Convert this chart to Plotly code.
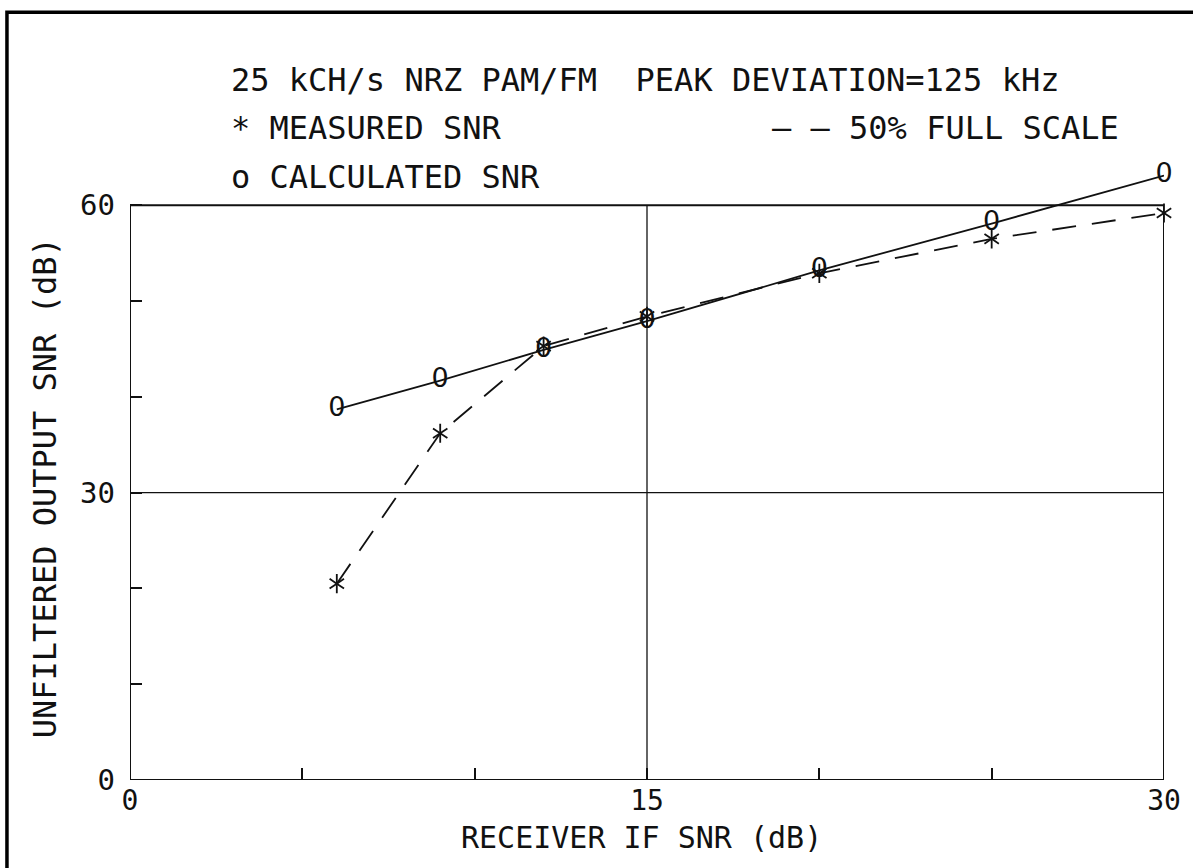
import plotly.graph_objects as go

# ---- data ----
if_snr = [6, 9, 12, 15, 20, 25, 30]
calculated_snr = [38.7, 41.7, 44.9, 47.9, 53.2, 58.1, 63.1]
measured_snr = [20.5, 36.2, 45.3, 48.4, 52.9, 56.5, 59.2]

x_tick_vals = [0, 5, 10, 15, 20, 25, 30]
x_tick_text = ["0", "", "", "15", "", "", "30"]
y_tick_vals = [0, 10, 20, 30, 40, 50, 60]
y_tick_text = ["0", "", "", "30", "", "", "60"]

title_line = "25 kCH/s NRZ PAM/FM  PEAK DEVIATION=125 kHz"
legend_measured = "* MEASURED SNR"
legend_dash = "— — 50% FULL SCALE"
legend_calc = "o CALCULATED SNR"
x_title = "RECEIVER IF SNR (dB)"
y_title = "UNFILTERED OUTPUT SNR (dB)"

INK = "#111111"
MONO = "DejaVu Sans Mono, Liberation Mono, monospace"

fig = go.Figure()

# measured: dashed line
fig.add_trace(go.Scatter(
    x=if_snr, y=measured_snr, mode="lines",
    line=dict(color=INK, width=1.8, dash="24px,16px"),
    showlegend=False, hoverinfo="skip"))
# calculated: solid line
fig.add_trace(go.Scatter(
    x=if_snr, y=calculated_snr, mode="lines",
    line=dict(color=INK, width=1.8),
    showlegend=False, hoverinfo="skip"))
# calculated markers as plotter "0" glyphs
fig.add_trace(go.Scatter(
    x=if_snr, y=calculated_snr, mode="text",
    text=["0"] * len(if_snr), textposition="middle center",
    textfont=dict(family="DejaVu Sans, sans-serif", size=27, color=INK),
    cliponaxis=False, showlegend=False, hoverinfo="skip"))
# measured markers: six-arm stars (y-up + y-down)
for sym in ["y-up-open", "y-down-open"]:
    fig.add_trace(go.Scatter(
        x=if_snr, y=measured_snr, mode="markers",
        marker=dict(symbol=sym, size=12, line=dict(color=INK, width=1.8), color=INK),
        cliponaxis=False, showlegend=False, hoverinfo="skip"))

shapes = [
    # plot frame
    dict(type="rect", xref="x", yref="y", x0=0, x1=30, y0=0, y1=60,
         line=dict(color=INK, width=2)),
    # grid lines
    dict(type="line", xref="x", yref="y", x0=15, x1=15, y0=0, y1=60,
         line=dict(color=INK, width=1.3)),
    dict(type="line", xref="x", yref="y", x0=0, x1=30, y0=30, y1=30,
         line=dict(color=INK, width=1.3)),
    # outer page border (left/top visible)
    dict(type="rect", xref="paper", yref="paper", x0=-0.1190, x1=1.3,
         y0=-0.4, y1=1.2524, line=dict(color="#000000", width=3.5)),
]

annotations = [
    dict(text=title_line, xref="paper", yref="paper", x=0.0955, y=1.142,
         xanchor="left", yanchor="middle", showarrow=False,
         font=dict(family=MONO, size=32, color=INK)),
    dict(text=legend_measured, xref="paper", yref="paper", x=0.0955, y=1.0636,
         xanchor="left", yanchor="middle", showarrow=False,
         font=dict(family=MONO, size=32, color=INK)),
    dict(text=legend_dash, xref="paper", yref="paper", x=0.958, y=1.0636,
         xanchor="right", yanchor="middle", showarrow=False,
         font=dict(family=MONO, size=32, color=INK)),
    dict(text=legend_calc, xref="paper", yref="paper", x=0.0955, y=0.984,
         xanchor="left", yanchor="middle", showarrow=False,
         font=dict(family=MONO, size=32, color=INK)),
    dict(text=x_title, xref="paper", yref="paper", x=0.495, y=-0.094,
         xanchor="center", yanchor="middle", showarrow=False,
         font=dict(family=MONO, size=30, color=INK)),
    dict(text=y_title, xref="paper", yref="paper", x=-0.0822, y=0.476,
         xanchor="center", yanchor="middle", showarrow=False, textangle=-90,
         font=dict(family=MONO, size=32, color=INK)),
]

fig.update_layout(
    width=1193, height=868,
    margin=dict(l=130, r=29, t=167, b=88),
    paper_bgcolor="white", plot_bgcolor="white",
    shapes=shapes, annotations=annotations,
    xaxis=dict(range=[0, 30], showgrid=False, zeroline=False, showline=False,
               tickvals=x_tick_vals, ticktext=x_tick_text,
               ticks="inside", ticklen=12, tickwidth=1.5, tickcolor=INK,
               tickfont=dict(family=MONO, size=28, color=INK),
               ticklabelstandoff=1),
    yaxis=dict(range=[0, 64], showgrid=False, zeroline=False, showline=False,
               tickvals=y_tick_vals, ticktext=y_tick_text,
               ticks="inside", ticklen=12, tickwidth=1.5, tickcolor=INK,
               tickfont=dict(family=MONO, size=29, color=INK),
               ticklabelstandoff=14),
)

fig.write_html("out.html",
               config={"displayModeBar": False},
               post_script="document.body.style.margin='0';document.body.style.overflow='hidden';")
